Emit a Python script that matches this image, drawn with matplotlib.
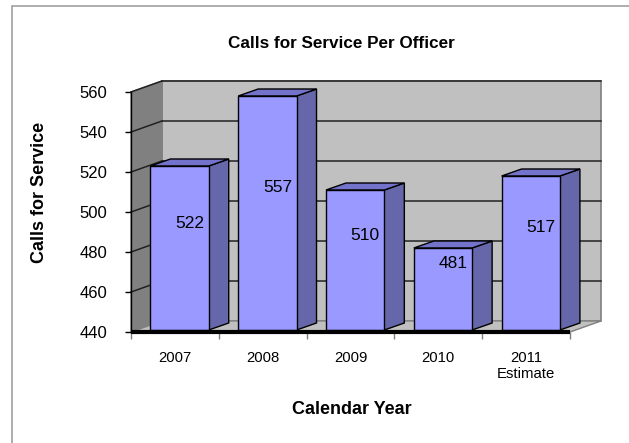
import matplotlib
matplotlib.use("Agg")
from matplotlib import pyplot as plt
from matplotlib import rcParams
from matplotlib.patches import Polygon, Rectangle

rcParams['font.family'] = ['Liberation Sans', 'DejaVu Sans']

years = ['2007', '2008', '2009', '2010', '2011\nEstimate']
calls = [522, 557, 510, 481, 517]
y_ticks = [440, 460, 480, 500, 520, 540, 560]

W, H = 629, 443
fig = plt.figure(figsize=(W / 100, H / 100), dpi=100)

def fx(px):
    return px / W

def fy(py):
    return 1 - py / H

# front plane of the 3d box
ax = fig.add_axes([fx(131), fy(332), fx(570) - fx(131), fy(92) - fy(332)])
ax.set_xlim(-0.5, 4.5)
ax.set_ylim(440, 560)
ax.patch.set_visible(False)

# depth of walls and bars, in data units
DX, DY = 0.353, 5.5
BDX, BDY = 0.228, 3.5
OFF_Y = 1.0
x0, x1 = -0.5, 4.5
lo, hi = y_ticks[0], y_ticks[-1]

def poly(pts, fc, ec='black', lw=1.0, z=1):
    ax.add_patch(Polygon(pts, closed=True, facecolor=fc, edgecolor=ec,
                         linewidth=lw, zorder=z, clip_on=False))

# back wall, side wall, floor
poly([(x0 + DX, lo + DY), (x1 + DX, lo + DY), (x1 + DX, hi + DY), (x0 + DX, hi + DY)],
     '#c0c0c0', ec='#808080', lw=1.2)
poly([(x0, lo), (x0 + DX, lo + DY), (x0 + DX, hi + DY), (x0, hi)], '#808080', ec='#808080')
poly([(x0, lo), (x1, lo), (x1 + DX, lo + DY), (x0 + DX, lo + DY)], '#c0c0c0', ec='#808080')

for v in y_ticks[1:]:
    ax.plot([x0 + DX, x1 + DX], [v + DY, v + DY], color='#222222', lw=1.1, zorder=2, clip_on=False)
    ax.plot([x0, x0 + DX], [v, v + DY], color='#222222', lw=1.1, zorder=2, clip_on=False)

# bars
for i, v in enumerate(calls):
    l = i - 0.279
    r = i + 0.385
    b = lo + OFF_Y
    t = v + OFF_Y
    poly([(r, b), (r + BDX, b + BDY), (r + BDX, t + BDY), (r, t)], '#6666aa', z=3)
    poly([(l, t), (r, t), (r + BDX, t + BDY), (l + BDX, t + BDY)], '#7373cc', z=3)
    poly([(l, b), (r, b), (r, t), (l, t)], '#9999ff', z=4)
    ax.text((l + r) / 2 + BDX / 2, (v + lo) / 2 + 13.5, str(v), ha='center', va='center',
            fontsize=12.5, zorder=5)

# category axis line
ax.plot([x0, x1], [lo, lo], color='black', lw=3, zorder=6, solid_capstyle='butt', clip_on=False)

for s in ['top', 'right', 'bottom']:
    ax.spines[s].set_visible(False)
ax.spines['left'].set_color('black')
ax.spines['left'].set_linewidth(1.0)
ax.spines['left'].set_zorder(6)

ax.set_yticks(y_ticks)
ax.tick_params(axis='y', length=4, width=1, direction='out', pad=13, labelsize=12)
ax.set_xticks(range(len(years)))
ax.set_xticklabels(years, fontsize=10.7)
ax.set_xticks([i - 0.5 for i in range(len(years) + 1)], minor=True)
ax.tick_params(axis='x', which='major', length=0, pad=13.5)
ax.tick_params(axis='x', which='minor', length=5, width=1, color='#808080')

fig.text(fx(341), fy(43), 'Calls for Service Per Officer', ha='center', va='center',
         fontsize=12.3, fontweight='bold')
fig.text(fx(39), fy(192), 'Calls for Service', ha='center', va='center', rotation=90,
         fontsize=13, fontweight='bold')
fig.text(fx(352), fy(409), 'Calendar Year', ha='center', va='center',
         fontsize=13, fontweight='bold')

# outer chart border
fig.patches.append(Rectangle((fx(12), fy(448)), 1, fy(6) - fy(448), transform=fig.transFigure,
                             fill=False, edgecolor='#a0a0a0', linewidth=1.2))

fig.savefig('out.png', dpi=100)
